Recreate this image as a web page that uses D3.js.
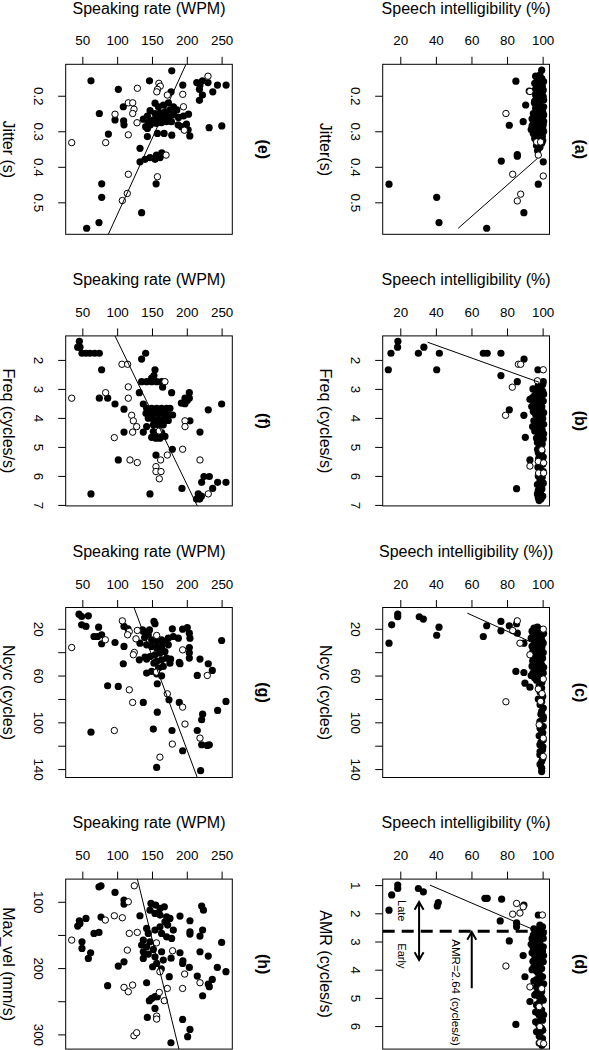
<!DOCTYPE html>
<html><head><meta charset="utf-8">
<script src="https://cdn.jsdelivr.net/npm/d3@7"></script>
<style>
body{margin:0;background:#fff}
svg{display:block;background:#fff}
text{font-family:'Liberation Sans',Arial,Helvetica,sans-serif;fill:#000}
</style>
</head><body>
<svg id="chart" width="589" height="1050"></svg>
<script>
// ---------------- DATA ----------------
// tick values / labels
const intelTicks = [20, 40, 60, 80, 100];
const rateTicks = [50, 100, 150, 200, 250];
const jitterTicks = [0.2, 0.3, 0.4, 0.5];
const freqTicks = [2, 3, 4, 5, 6, 7];
const ncycTicks = [20, 40, 60, 80, 100, 120, 140];
const ncycLabels = [20, 60, 100, 140];
const amrTicks = [1, 2, 3, 4, 5, 6];
const velTicks = [100, 150, 200, 250, 300];
const velLabels = [100, 200, 300];

// axis domains (value range shown by each axis)
const intelDomain = [9.55, 103.3];
const rateDomain = [24.7, 263.9];
const jitterDomain = [0.1115, 0.590];
const freqDomain = [1.172, 7.034];
const ncycDomain = [1.78, 147.2];
const amrDomain = [0.787, 6.816];
const velDomain = [65.8, 322.2];

// panel (a): [jitter, intelligibility]
const aFilled = [[0.128,98.9],[0.159,84.4],[0.142,97.9],[0.156,98.9],[0.170,97.0],[0.184,99.8],[0.193,98.9],[0.203,96.0],[0.203,99.8],[0.217,97.9],[0.231,100],[0.231,96.0],[0.240,98.9],[0.250,94.2],[0.250,97.9],[0.254,100],[0.264,96.0],[0.268,98.9],[0.278,94.2],[0.282,97.0],[0.282,99.8],[0.292,95.1],[0.296,97.9],[0.301,100],[0.306,94.2],[0.310,97.0],[0.315,99.3],[0.325,96.0],[0.334,98.9],[0.345,97.9],[0.355,96.6],[0.226,89.9],[0.273,88.5],[0.283,80.7],[0.370,85.2],[0.366,85.2],[0.384,76.2],[0.386,99.8],[0.449,97.0],[0.449,13.1],[0.486,39.9],[0.529,88.9],[0.557,41.2],[0.573,68.0],[0.187,91.9],[0.175,99.3],[0.210,98.0],[0.245,99.5],[0.260,95.5],[0.288,98.5],[0.220,94.8],[0.272,100],[0.300,96.5],[0.318,97.0],[0.152,99.0],[0.165,98.0],[0.190,97.5],[0.198,95.5],[0.235,98.5],[0.258,99.5],[0.285,93.5],[0.310,95.5],
[0.145,95.5],[0.155,96.5],[0.165,95.0],[0.175,96.0],[0.185,95.0],[0.195,99.0],[0.205,97.5],[0.215,95.0],[0.225,96.5],[0.235,95.5],[0.245,96.0],[0.255,97.0],[0.265,93.5],[0.275,96.0],[0.285,96.0],[0.295,93.0],[0.305,98.5],[0.320,95.0],[0.330,97.0],[0.340,96.0],[0.212,100],[0.228,98.0],[0.262,98.0],[0.292,99.5],[0.312,98.5],[0.326,99.5],[0.180,98.5],[0.160,100]];
const aOpen = [[0.188,92.3],[0.250,78.8],[0.330,96.1],[0.330,98.3],[0.367,97.0],[0.421,82.6],[0.426,99.8],[0.477,87.1],[0.496,85.2]];
const aFit = [[0.376,96.6],[0.573,52.0]];

// panel (e): [jitter, speaking rate]
const eFilled = [[0.130,177],[0.158,61],[0.182,100.3],[0.158,145],[0.189,176],[0.170,192.8],[0.163,212.9],[0.170,217.5],[0.158,221],[0.163,229],[0.170,242.6],[0.170,255],[0.182,216.7],[0.189,235.9],[0.198,221],[0.213,216.7],[0.250,73],[0.268,95.5],[0.271,107.9],[0.282,108.4],[0.308,86],[0.348,131.4],[0.231,107.4],
[0.221,153],[0.231,157.8],[0.226,165],[0.220,172.2],[0.231,179.4],[0.240,184.2],[0.240,174.6],[0.245,167.4],[0.248,160.2],[0.250,153],[0.242,145.8],[0.257,142],[0.266,136.2],[0.273,143.4],[0.268,150.6],[0.264,157.8],[0.261,165],[0.259,172.2],[0.254,179.4],[0.261,186.6],[0.257,193.8],[0.252,201],[0.287,139.5],[0.282,146.3],[0.278,154.9],[0.276,162.1],[0.273,169.3],[0.273,176.5],[0.282,186.1],[0.287,190.9],[0.280,198.1],[0.296,200.5],[0.313,202.9],[0.296,195.7],[0.315,142],[0.306,156.4],[0.306,166],[0.311,177],[0.292,142],
[0.367,155],[0.374,160.2],[0.379,153],[0.374,145.8],[0.379,138.6],[0.386,131.4],[0.361,162.6],[0.448,154.5],[0.448,76.4],[0.486,76.4],[0.529,133.7],[0.557,72.5],[0.573,54.8],[0.290,230.6],[0.285,248.8]];
const eOpen = [[0.145,229],[0.179,127.6],[0.165,158.5],[0.173,160.5],[0.182,156.5],[0.189,155.5],[0.198,170.6],[0.196,192.8],[0.231,193.8],[0.220,114.6],[0.220,120.9],[0.238,122.8],[0.250,120.9],[0.252,95.5],[0.276,127.1],[0.310,114.6],[0.332,82.1],[0.332,33.3],[0.428,156.4],[0.367,168.8],[0.421,114.6],[0.475,113.1],[0.495,106],[0.297,195]];
const eFit = [[0.1115,197.4],[0.590,85.9]];

// panel (b): [freq, intelligibility]
const bFilled = [[1.36,18.1],[1.56,17.9],[1.77,14.2],[2.34,12.7],[1.77,29.6],[1.56,32.7],[1.77,41.4],[2.34,39.9],[1.77,66.1],[1.77,68.3],[1.77,76.0],[1.97,89.0],[2.54,76.0],[2.75,85.2],[2.34,96.8],[2.75,99.8],[3.72,80.7],[3.91,88.9],[4.67,89.7],[5.45,92.3],[6.44,84.8],[5.08,96.6],[3.36,92.3],[3.61,93.3],[3.78,94.2],[4.30,93.8],
[2.88,97.0],[2.95,98.5],[3.02,96.0],[3.08,99.5],[3.15,97.5],[3.22,95.0],[3.28,98.8],[3.35,96.5],[3.42,99.8],[3.48,94.5],[3.55,97.5],[3.62,99.0],[3.68,96.0],[3.75,98.5],[3.82,100],[3.88,95.5],[3.95,97.8],[4.02,99.5],[4.08,96.5],[4.15,98.2],[4.22,100],[4.28,95.8],[4.35,97.5],[4.42,99.2],[4.50,96.8],[4.58,98.8],[4.65,97.2],[4.72,99.8],[4.80,98.0],[4.90,99.2],[5.00,97.8],[5.15,99.0],[5.25,98.2],[5.35,99.8],[5.50,98.5],[5.60,99.5],[5.75,98.0],[5.85,99.8],[5.95,97.5],[6.05,99.2],[6.15,98.0],[6.25,99.8],[6.35,97.8],[6.45,99.0],[6.55,98.2],[6.62,96.5],[6.70,99.5],[6.80,98.5],[6.85,97.5],
[3.0,94.0],[3.3,93.8],[3.5,96.5],[3.7,98.0],[3.9,99.0],[4.1,94.5],[4.3,98.5],[4.45,95.0],[4.55,100],[4.7,96.0],[4.85,96.5],[5.05,98.5],[5.2,97.0],[5.4,97.2],[5.7,96.8],[6.0,97.0],[6.3,96.5],[6.5,97.0],[6.75,97.0],[2.85,99.5],[3.18,100],[3.45,97.0]];
const bOpen = [[2.15,85.8],[2.15,87.1],[2.94,82.4],[2.34,99.8],[2.72,96.5],[3.91,78.6],[5.66,92.3],[5.10,99.0],[5.50,97.0],[5.55,100],[5.90,97.2],[5.90,100]];
const bFit = [[1.39,34.8],[2.77,97.4]];

// panel (f): [freq, speaking rate]
const fFilled = [[1.36,44.3],[1.56,41.9],[1.56,45.2],[1.77,48.1],[1.77,53.8],[1.77,59.6],[1.77,66.3],[1.77,73],[1.77,139.5],[1.97,133.7],[2.34,76.3],[2.34,152.9],[2.54,151.4],[2.63,148.1],[2.75,133.7],[2.75,140.9],[2.75,148.1],[2.75,155.3],[2.75,162.4],[2.94,163.9],[3.13,130.4],[3.13,176.8],[3.13,202.2],[3.32,202.2],[3.32,196],[3.49,190.8],[3.51,196],[3.40,199.3],[3.32,73],[3.32,85],[3.52,95.5],[3.52,136.1],[3.72,229.4],[3.52,248.6],[3.70,108.4],[4.30,140.9],[4.49,136.1],[4.49,108.4],[4.10,203.1],[4.49,217.5],[5.08,177.8],[5.28,154.3],[5.45,100.2],[6.02,230.9],[6.02,223.2],[6.22,219.9],[6.22,242.8],[6.22,254.8],[6.43,235.7],[6.43,191.6],[6.62,145.7],[6.62,61],[6.62,215],[6.80,217],[6.80,212.5],[6.70,219.5],
[3.67,140.9],[3.67,148.1],[3.67,155.3],[3.67,162.4],[3.67,169.6],[3.67,174.4],[3.84,140],[3.86,145.7],[3.84,152.9],[3.84,160.1],[3.84,167.2],[3.90,172],[3.90,178.2],[4.01,143.3],[4.05,150.5],[4.05,157.7],[4.05,164.8],[4.09,172],[4.24,150.5],[4.24,157.7],[4.24,164.8],[4.47,150.5],[4.53,156.2],[4.51,162.4],[4.64,167.2],[4.70,154.3],[4.70,160.1],[4.67,148.1]];
const fOpen = [[2.15,105.5],[2.15,113.6],[2.75,167.2],[2.93,114.6],[3.13,82],[3.32,33.3],[3.32,114.6],[3.91,119.4],[4.10,121.8],[4.30,126.6],[4.49,120.8],[4.68,94.5],[4.10,196],[4.30,196],[5.08,192.6],[5.28,170.6],[5.45,117],[5.54,127.5],[5.45,161],[5.68,154.3],[5.85,154.3],[5.85,161.5],[6.10,159.1],[5.45,217.5],[6.62,229.4],[4.45,159]];
const fFit = [[1.172,95.5],[7.034,213.6]];

// panel (c): [ncyc, intelligibility]
const cFilled = [[7.4,18.0],[9.7,18.0],[16.6,14.6],[32.3,13.1],[9.7,30.1],[11.7,32.4],[18.6,41.2],[25.5,39.9],[26.6,66.1],[17.4,68.0],[13.7,76.0],[21.7,76.0],[17.4,80.7],[15.7,84.8],[23.7,85.2],[32.3,88.9],[56.5,84.4],[57.4,88.9],[66.5,89.5],[69.9,92.3],
[19.4,94.6],[20.9,96.4],[22.4,97.5],[25.2,94.2],[26.6,96.4],[26.0,98.9],[30.9,94.6],[31.8,97.5],[32.3,99.8],[37.4,95.1],[38.8,97.9],[40.3,99.8],[42.2,94.6],[43.6,97.5],[45.1,99.4],[49.4,96.0],[50.8,98.9],[55.1,95.1],[56.5,97.9],[57.9,99.8],[59.3,96.0],[63.6,98.9],[68.7,97.5],[70.7,98.9],[80.1,97.0],[82.1,98.9],[87.8,99.8],[90.7,98.9],[95.0,99.8],[99.3,97.9],[103.6,99.8],[107.8,98.9],[111.5,97.5],[115.0,99.8],[119.2,97.9],[123.5,99.4],[127.8,97.9],[133.5,98.9],[139.2,98.9],[142.1,98.9],
[22,93.5],[28,93.0],[35,93.5],[47,94.0],[52,93.5],[60,93.0],[30,99.0],[45,97.0],[53,100],[24,100],[62,95],
[18.5,96.5],[21,99],[23,95.5],[27,98],[29,96],[33,95],[34,97],[36,99],[39,94],[41,96.5],[44,95.5],[46,98.5],[48,94],[51,96.5],[54,98],[58,94],[61,97],[64,96],[66,99],[74,98],[78,99.5],[85,98.0],[93,98.5],[97,99.8],[105,98.0],[109,99.5],[117,98.5],[121,99.6],[125,98],[131,99.5],[136,98.0]];
const cOpen = [[13.2,85.2],[21.5,82.6],[32.3,86.7],[42.2,92.3],[82.4,78.8],[20.3,99.8],[63,99.8],[71.5,97],[75.5,99.1],[82.1,98.3],[102.1,97.5],[113.6,99.8],[129.2,99.8]];
const cFit = [[6.6,57.1],[30.9,92.3]];

// panel (g): [ncyc, speaking rate]
const gFilled = [[7.5,43.8],[9.5,47.6],[8.9,57.2],[16.6,47.6],[18.0,53.8],[18.6,72],[26.6,65.3],[26.6,70.5],[25.1,76.3],[32.8,76.3],[31.7,95.5],[18.0,108.4],[20.0,114.1],[35.1,108.4],[49.9,107.4],[46.5,130.4],[45.9,140.9],[21.0,135],[24.0,141],[21.0,145],[27.5,138],[13.7,151.4],[15.7,152.9],[57.9,140.9],[56.5,148.1],[58.5,155.3],[60.2,162.4],[20.0,177.8],[20.3,192.6],[18.9,199.3],[23.7,202.2],[28.0,203.1],[36.0,202.2],[40.5,202.2],[45.0,202.2],[48.8,187.8],[45.9,217.5],[49.9,229.4],[55.6,235.2],[30.0,248.6],[59.9,213.6],[67.0,156.2],[68.7,84.9],[69.3,100.2],[83.0,136.1],[80.7,173.0],[83.0,187.8],[91.3,156.2],[93.0,221.3],[97.8,219.9],[89.8,242.8],[82.1,254.8],[108.4,61],[105.8,150.5],[107.0,177.3],[107.0,213.6],[119.2,219.9],[119.8,228],[119.2,230.9],[124.3,192.6],[138.6,155.3],[141.4,218.4],
[22.3,136.1],[25.1,143.3],[29.4,148.1],[30.8,155.3],[29.4,162.4],[32.3,167.2],[28.0,172],[26.6,179.2],[28.0,186.4],[33.7,172],[35.1,162.4],[36.5,155.3],[35.1,148.1],[33.7,140.9],[32.3,131.3],[39.4,167.2],[40.8,160.1],[42.2,152.9],[43.7,145.7],[44.2,138.5],[45.1,169.6],[46.5,162.4],[47.9,155.3],[45.9,175.4],[52.2,164.8],[53.6,158.1],[49.4,174.4],[49.4,151.4],[49.9,188.8]];
const gOpen = [[36.0,33.3],[29.4,81.6],[13.2,106],[22.3,116],[25.1,113.6],[21.4,127.5],[28.6,125.6],[40.2,123.2],[42.2,121.8],[25.7,155.3],[38.0,192.6],[59.9,228],[72.2,116],[83.0,120.8],[75.6,170.6],[87.0,192.6],[101.5,196],[107.0,94.5],[113.5,217.5],[118.6,177.8],[129.8,160],[57,155]];
const gFit = [[1.78,122.8],[147.2,213.6]];

// panel (d): [AMR, intelligibility]
const dFilled = [[1.0,18.0],[1.12,18.0],[1.35,14.6],[1.89,13.1],[1.12,29.6],[1.24,32.4],[1.62,40.8],[1.74,40.2],[1.47,67.0],[1.47,68.3],[1.50,76.4],[1.71,88.9],[2.27,75.6],[2.34,84.8],[2.48,84.8],[2.98,80.7],[3.50,88.5],[4.25,89.5],[5.13,92.3],[5.94,84.4],[2.06,97.0],
[2.42,97.9],[2.48,99.4],[2.60,96.0],[2.65,98.9],[2.77,94.2],[2.83,97.0],[2.89,99.8],[3.01,95.1],[3.07,97.9],[3.19,99.8],[3.25,94.2],[3.31,97.0],[3.36,99.4],[3.54,95.1],[3.60,97.9],[3.72,99.8],[3.84,96.0],[3.96,98.9],[4.13,97.0],[4.25,99.4],[4.43,97.9],[4.61,96.0],[4.78,98.9],[4.96,97.5],[5.08,99.8],[5.25,96.0],[5.43,98.9],[5.61,97.5],[5.79,99.4],[5.91,97.0],[6.08,98.9],[6.26,97.9],[6.44,99.4],
[2.9,93.5],[3.1,93.0],[3.4,93.5],[3.7,94.0],[4.0,93.5],[4.4,94.5],[4.9,95],[5.5,95.5],[6.2,96],[6.6,97.5],[2.7,99.8],[3.5,100],[4.5,100],[5.6,100],
[2.55,94.5],[2.7,97.5],[2.95,97.0],[3.13,96.0],[3.28,98.5],[3.45,96.5],[3.66,96.0],[3.78,98.0],[3.9,94.5],[4.05,96.0],[4.19,98.0],[4.35,96.0],[4.52,98.5],[4.7,97.0],[4.85,95.8],[5.0,99.0],[5.18,97.5],[5.35,97.0],[5.52,96.5],[5.7,98.5],[5.85,95.5],[6.0,97.5],[6.15,99.5],[6.35,97.5],[6.52,98.5],[6.68,99.0]];
const dOpen = [[1.65,84.8],[1.77,88.5],[2.03,82.6],[1.99,86.7],[2.06,99.3],[3.87,78.8],[4.61,92.3],[4.67,98.9],[5.31,97.5],[6.02,97.9],[6.59,97.9],[6.62,100]];
const dFit = [[1.0,36.1],[2.6,95.1]];
const amrThreshold = 2.64;
const amrArrowDouble = [1.6, 3.66];   // AMR span of Late/Early arrow
const amrArrowDoubleAt = 30;          // intelligibility level
const amrArrowSingle = [4.66, 2.66];  // tail -> head
const amrArrowSingleAt = 59.6;
const amrNotes = [
  {text: 'Late', x: 1.91, y: 20.2},
  {text: 'Early', x: 3.51, y: 20.2},
  {text: 'AMR=2.64 (cycles/s)', x: 4.81, y: 50.7}
];

// panel (h): [max_vel, speaking rate]
const hFilled = [[77.4,72.5],[75.9,75.4],[85.9,95.5],[97.5,108.4],[103.5,108.4],[128.6,44.3],[136.7,41.9],[132.7,45.2],[125.1,53.8],[123.1,75.4],[147.7,65.3],[146.2,72.5],[160.3,48.1],[170.4,48.1],[177.0,60.5],[185.4,57.2],[190.5,108.4],[197.0,100.2],[121.1,131.3],[121.6,188.8],[128.6,203.1],[145.2,203.1],[148.7,203.1],[151.8,217.5],[106.5,219.9],[112.6,222.5],[142.7,221.3],[161.3,248.6],[176.9,188.8],[175.4,217.5],[181.9,229.4],[193.0,192.6],[199.0,202.2],[199.0,242.4],[205.5,254.8],[212.0,213.6],[224.1,229.4],[217.1,235.2],[228.0,230.9],[241.7,221.3],[213.0,173.4],[222.1,140.9],[226.6,84.9],[249.2,144.8],[245.7,148.1],[243.2,152.9],[243.2,156.2],[260.8,152.9],[274.4,141.9],[277.4,192.6],[292.5,203.1],[303.5,199.8],[312.6,175.8],[189,193],[201,162],[185,176],
[102.5,147.1],[105,153.8],[110,160.1],[107.5,166.3],[112.6,145.7],[117.6,152.9],[120.1,160.1],[122.6,169.6],[125.1,174.4],[130.2,167.2],[135.2,171.1],[137.7,160.1],[142.7,152.9],[147.7,143.3],[147.7,162.4],[152.8,169.6],[155.3,176.8],[157.8,136.1],[160.3,145.7],[165.3,133.7],[167.8,140.9],[171.9,150.5],[175.4,162.4],[175.4,136.1],[178.9,143.3],[182.9,152.9],[185.4,136.1],[187.9,164.8],[193.0,155.3],[140.2,140.9],[142.7,179.2],[198,149.5]];
const hOpen = [[75.9,123.2],[100,114.6],[127.6,81.6],[121.1,94.5],[124.1,106],[157.8,33.3],[147.7,116],[146.2,127.5],[172.9,113.2],[173.9,178.2],[209.0,195.5],[222.1,217.5],[230.7,192.6],[230.7,170.6],[205.5,160],[229.1,108.4],[235.7,114.6],[225.6,120.8],[236.7,159.1],[249.2,166.3],[272.4,155.3],[276.9,155.3],[302,122.7],[297.5,126.6],[162,155]];
const hFit = [[65.8,127.6],[322.2,187.3]];

// ---------------- PANELS ----------------
const panels = [
  {title:'(a)', row:0, col:0, filled:aFilled, open:aOpen, fit:aFit, xDomain:jitterDomain, xTicks:jitterTicks, xLabels:jitterTicks, xlab:'Jitter(s)', ylab:'Speech intelligibility (%)'},
  {title:'(b)', row:0, col:1, filled:bFilled, open:bOpen, fit:bFit, xDomain:freqDomain, xTicks:freqTicks, xLabels:freqTicks, xlab:'Freq (cycles/s)', ylab:'Speech intelligibility (%)'},
  {title:'(c)', row:0, col:2, filled:cFilled, open:cOpen, fit:cFit, xDomain:ncycDomain, xTicks:ncycTicks, xLabels:ncycLabels, xlab:'Ncyc (cycles)', ylab:'Speech intelligibility (%))'},
  {title:'(d)', row:0, col:3, filled:dFilled, open:dOpen, fit:dFit, xDomain:amrDomain, xTicks:amrTicks, xLabels:amrTicks, xlab:'AMR (cycles/s)', ylab:'Speech intelligibility (%)', amr:true},
  {title:'(e)', row:1, col:0, filled:eFilled, open:eOpen, fit:eFit, xDomain:jitterDomain, xTicks:jitterTicks, xLabels:jitterTicks, xlab:'Jitter (s)', ylab:'Speaking rate (WPM)'},
  {title:'(f)', row:1, col:1, filled:fFilled, open:fOpen, fit:fFit, xDomain:freqDomain, xTicks:freqTicks, xLabels:freqTicks, xlab:'Freq (cycles/s)', ylab:'Speaking rate (WPM)'},
  {title:'(g)', row:1, col:2, filled:gFilled, open:gOpen, fit:gFit, xDomain:ncycDomain, xTicks:ncycTicks, xLabels:ncycLabels, xlab:'Ncyc (cycles)', ylab:'Speaking rate (WPM)'},
  {title:'(h)', row:1, col:3, filled:hFilled, open:hOpen, fit:hFit, xDomain:velDomain, xTicks:velTicks, xLabels:velLabels, xlab:'Max_vel (mm/s)', ylab:'Speaking rate (WPM)'}
];

// ---------------- LAYOUT (unrotated figure, 1050 x 589) ----------------
const BOX_W = 170, COL0 = 64.3, COL_STEP = 271.6;
const rows = [{top:39.5, bottom:206.3}, {top:356.7, bottom:523.3}];
const TICK = 7.5, FS_TICK = 13.4, FS_LAB = 16;

const svg = d3.select('#chart');
svg.append('rect').attr('width',589).attr('height',1050).attr('fill','#fff');
const root = svg.append('g').attr('transform','translate(589,0) rotate(90)');

function arrowHead(g, tx, ty, dx, dy, len, ang){
  const a = Math.atan2(dy, dx);
  const p1 = [tx - len*Math.cos(a - ang), ty - len*Math.sin(a - ang)];
  const p2 = [tx - len*Math.cos(a + ang), ty - len*Math.sin(a + ang)];
  g.append('path').attr('d', `M${p1[0]},${p1[1]}L${tx},${ty}L${p2[0]},${p2[1]}`)
    .attr('fill','none').attr('stroke','#000').attr('stroke-width',2).attr('stroke-linejoin','miter');
}

panels.forEach(p => {
  const x0 = COL0 + p.col*COL_STEP, x1 = x0 + BOX_W;
  const r = rows[p.row];
  const x = d3.scaleLinear().domain(p.xDomain).range([x0, x1]);
  const y = d3.scaleLinear().domain(p.row === 0 ? intelDomain : rateDomain).range([r.bottom, r.top]);
  const yTicks = p.row === 0 ? intelTicks : rateTicks;
  const g = root.append('g');
  const clipId = 'clip' + p.row + p.col;
  g.append('clipPath').attr('id', clipId).append('rect')
    .attr('x', x0).attr('y', r.top).attr('width', BOX_W).attr('height', r.bottom - r.top);
  const plot = g.append('g').attr('clip-path', `url(#${clipId})`);

  plot.selectAll('circle.f').data(p.filled).join('circle').attr('class','f')
    .attr('cx', d => x(d[0])).attr('cy', d => y(d[1])).attr('r', 3.6).attr('fill', '#000');
  plot.selectAll('circle.o').data(p.open).join('circle').attr('class','o')
    .attr('cx', d => x(d[0])).attr('cy', d => y(d[1])).attr('r', 3.2)
    .attr('fill', '#fff').attr('stroke', '#000').attr('stroke-width', 1);

  plot.append('path').datum(p.fit)
    .attr('d', d3.line().x(d => x(d[0])).y(d => y(d[1])))
    .attr('fill','none').attr('stroke','#000').attr('stroke-width',1);

  if (p.amr) {
    plot.append('line').attr('x1', x(amrThreshold)).attr('x2', x(amrThreshold))
      .attr('y1', r.bottom).attr('y2', r.top)
      .attr('stroke','#000').attr('stroke-width',3).attr('stroke-dasharray','12,7');
    const ya = y(amrArrowDoubleAt);
    const xa0 = x(amrArrowDouble[0]), xa1 = x(amrArrowDouble[1]);
    plot.append('line').attr('x1', xa0).attr('x2', xa1).attr('y1', ya).attr('y2', ya)
      .attr('stroke','#000').attr('stroke-width',2);
    arrowHead(plot, xa0, ya, -1, 0, 9, Math.PI/6);
    arrowHead(plot, xa1, ya, 1, 0, 9, Math.PI/6);
    const ys = y(amrArrowSingleAt);
    const xs0 = x(amrArrowSingle[0]), xs1 = x(amrArrowSingle[1]);
    plot.append('line').attr('x1', xs0).attr('x2', xs1).attr('y1', ys).attr('y2', ys)
      .attr('stroke','#000').attr('stroke-width',2);
    arrowHead(plot, xs1, ys, xs1 - xs0, 0, 9, Math.PI/6);
    plot.selectAll('text.note').data(amrNotes).join('text').attr('class','note')
      .attr('x', d => x(d.x)).attr('y', d => y(d.y)).attr('dy','0.35em')
      .attr('text-anchor','middle').attr('font-size', d => d.text.length > 6 ? 11.5 : 11)
      .text(d => d.text);
  }

  // box
  g.append('rect').attr('x', x0).attr('y', r.top).attr('width', BOX_W).attr('height', r.bottom - r.top)
    .attr('fill','none').attr('stroke','#000').attr('stroke-width',1);

  // bottom axis (panel variable)
  const xa = d3.axisBottom(x).tickValues(p.xTicks).tickSize(TICK)
    .tickFormat(v => p.xLabels.includes(v) ? String(v) : '');
  const gx = g.append('g').attr('transform', `translate(0,${r.bottom})`).call(xa);
  gx.select('.domain').remove();
  gx.selectAll('line').attr('stroke','#000');
  gx.selectAll('text').attr('y', 26.5).attr('dy','0.36em')
    .attr('font-size', FS_TICK).attr('font-family', "'Liberation Sans',Arial,sans-serif").attr('fill','#000');

  // left axis (intelligibility / speaking rate)
  const ya = d3.axisLeft(y).tickValues(yTicks).tickSize(TICK).tickFormat(v => String(v));
  const gy = g.append('g').attr('transform', `translate(${x0},0)`).call(ya);
  gy.select('.domain').remove();
  gy.selectAll('line').attr('stroke','#000');
  gy.selectAll('text').attr('x', null).attr('dy','0.36em').attr('text-anchor','middle')
    .attr('transform','translate(-23.7,0) rotate(-90)')
    .attr('font-size', FS_TICK).attr('font-family', "'Liberation Sans',Arial,sans-serif").attr('fill','#000');

  // axis titles
  g.append('text').attr('x', (x0 + x1)/2).attr('y', r.bottom + 57.3).attr('dy','0.32em')
    .attr('text-anchor','middle').attr('font-size', FS_LAB).text(p.xlab);
  g.append('text').attr('transform', `translate(${x0 - 55.8},${(r.top + r.bottom)/2}) rotate(-90)`)
    .attr('dy','0.32em').attr('text-anchor','middle').attr('font-size', FS_LAB).text(p.ylab);
  // panel title
  g.append('text').attr('x', (x0 + x1)/2).attr('y', r.top - 31).attr('dy','0.32em')
    .attr('text-anchor','middle').attr('font-size', 16).attr('font-weight','bold').text(p.title);
});
</script>
</body></html>
